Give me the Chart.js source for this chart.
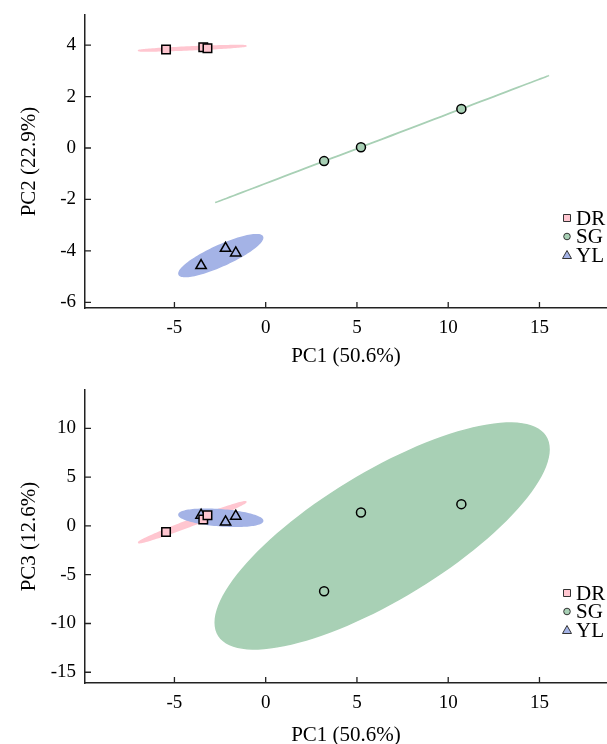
<!DOCTYPE html>
<html>
<head>
<meta charset="utf-8">
<script src="https://cdn.jsdelivr.net/npm/chart.js@4.4.1/dist/chart.umd.min.js"></script>
<style>
  html, body { margin: 0; padding: 0; background: #fff; overflow: hidden; }
  .box { width: 607px; height: 372px; }
  canvas { display: block; }
</style>
</head>
<body>
<div class="box"><canvas id="pc12" width="607" height="372"></canvas></div>
<div class="box"><canvas id="pc13" width="607" height="372"></canvas></div>
<script>
// scores per group (3 samples each)
var groups = ['DR', 'SG', 'YL'];
var DR_PC1 = [-5.46, -3.42, -3.19];
var DR_PC2 = [3.83, 3.92, 3.88];
var DR_PC3 = [-0.62, 0.66, 1.10];
var SG_PC1 = [3.20, 5.22, 10.72];
var SG_PC2 = [-0.51, 0.03, 1.52];
var SG_PC3 = [-6.70, 1.37, 2.23];
var YL_PC1 = [-3.54, -2.20, -1.64];
var YL_PC2 = [-4.57, -3.90, -4.08];
var YL_PC3 = [1.10, 0.41, 1.00];

var xTicks = [-5, 0, 5, 10, 15];
var pc2Ticks = [-6, -4, -2, 0, 2, 4];
var pc3Ticks = [-15, -10, -5, 0, 5, 10];

var FONT = '"Liberation Serif", "Times New Roman", serif';
var ELLIPSE_K = 2.35;
var colors = { DR: '#ffc6d0', SG: '#a8d0b5', YL: '#a4b3e6' };
var shapes = { DR: 'rect', SG: 'circle', YL: 'triangle' };
var radius = { DR: 6, SG: 4.5, YL: 6 };

function pts(xs, ys) {
    return xs.map(function (v, i) { return { x: v, y: ys[i] }; });
}

// confidence ellipse of each group, from its own points
var ellipsePlugin = {
    id: 'ellipses',
    beforeDatasetsDraw: function (chart) {
        var ctx = chart.ctx, sx = chart.scales.x, sy = chart.scales.y;
        ctx.save();
        chart.data.datasets.forEach(function (ds) {
            var d = ds.data, n = d.length, mx = 0, my = 0;
            d.forEach(function (p) { mx += p.x; my += p.y; });
            mx /= n; my /= n;
            var sxx = 0, syy = 0, sxy = 0;
            d.forEach(function (p) {
                sxx += (p.x - mx) * (p.x - mx);
                syy += (p.y - my) * (p.y - my);
                sxy += (p.x - mx) * (p.y - my);
            });
            sxx /= n - 1; syy /= n - 1; sxy /= n - 1;
            var l11 = Math.sqrt(sxx), l21 = sxy / l11;
            var l22 = Math.sqrt(Math.max(syy - l21 * l21, 0));
            ctx.beginPath();
            for (var i = 0; i <= 120; i++) {
                var t = i / 120 * 2 * Math.PI;
                var c = Math.cos(t) * ELLIPSE_K, s = Math.sin(t) * ELLIPSE_K;
                var px = sx.getPixelForValue(mx + l11 * c);
                var py = sy.getPixelForValue(my + l21 * c + l22 * s);
                if (i === 0) ctx.moveTo(px, py); else ctx.lineTo(px, py);
            }
            ctx.closePath();
            ctx.fillStyle = ds.backgroundColor;
            ctx.fill();
            ctx.strokeStyle = ds.backgroundColor;
            ctx.lineWidth = 1.5;
            ctx.stroke();
        });
        ctx.restore();
    }
};

// inward tick marks
var tickPlugin = {
    id: 'inTicks',
    afterDraw: function (chart) {
        var ctx = chart.ctx, a = chart.chartArea;
        ctx.save();
        ctx.strokeStyle = '#222';
        ctx.lineWidth = 1.3;
        ctx.beginPath();
        chart.scales.x.ticks.forEach(function (t) {
            var px = chart.scales.x.getPixelForValue(t.value);
            ctx.moveTo(px, a.bottom); ctx.lineTo(px, a.bottom - 6);
        });
        chart.scales.y.ticks.forEach(function (t) {
            var py = chart.scales.y.getPixelForValue(t.value);
            ctx.moveTo(a.left, py); ctx.lineTo(a.left + 6, py);
        });
        ctx.stroke();
        ctx.restore();
    }
};

// legend in the lower right corner of the plot
var legendPlugin = {
    id: 'cornerLegend',
    afterDraw: function (chart) {
        var ctx = chart.ctx, a = chart.chartArea;
        var rows = chart.options.plugins.cornerLegend.rows;
        ctx.save();
        ctx.font = '21px ' + FONT;
        ctx.textBaseline = 'middle';
        ctx.textAlign = 'left';
        chart.data.datasets.forEach(function (ds, i) {
            var y = a.bottom + rows[i], x = 567;
            ctx.fillStyle = ds.backgroundColor;
            ctx.strokeStyle = '#333';
            ctx.lineWidth = 1;
            ctx.beginPath();
            if (ds.pointStyle === 'rect') ctx.rect(x - 3.5, y - 3.5, 7, 7);
            else if (ds.pointStyle === 'circle') ctx.arc(x, y, 3.3, 0, 2 * Math.PI);
            else { ctx.moveTo(x, y - 4.5); ctx.lineTo(x + 4.5, y + 3.5); ctx.lineTo(x - 4.5, y + 3.5); ctx.closePath(); }
            ctx.fill(); ctx.stroke();
            ctx.fillStyle = '#000';
            ctx.fillText(ds.label, 576, y + 1);
        });
        ctx.restore();
    }
};

function noPadding(s) {
    s.paddingTop = 0; s.paddingBottom = 0; s.paddingLeft = 0; s.paddingRight = 0;
}

function makeChart(id, yData, yTicks, yMin, yMax, yTitle, padTop, xHeight, xTitlePad, legendRows) {
    var datasets = groups.map(function (g, i) {
        return {
            label: g,
            data: pts(window[g + '_PC1'], yData[i]),
            pointStyle: shapes[g],
            pointRadius: radius[g],
            backgroundColor: colors[g],
            borderColor: '#000',
            borderWidth: 1.5
        };
    });
    return new Chart(document.getElementById(id), {
        type: 'scatter',
        data: { datasets: datasets },
        plugins: [ellipsePlugin, tickPlugin, legendPlugin],
        options: {
            responsive: false,
            animation: false,
            layout: { autoPadding: false, padding: { top: padTop, left: 0, right: 0, bottom: 0 } },
            plugins: {
                legend: { display: false },
                tooltip: { enabled: false },
                cornerLegend: { rows: legendRows }
            },
            scales: {
                x: {
                    type: 'linear', min: -9.9, max: 18.7,
                    grid: { display: false, drawTicks: false },
                    border: { display: true, color: '#222', width: 1.5 },
                    afterBuildTicks: function (s) { s.ticks = xTicks.map(function (v) { return { value: v }; }); },
                    afterFit: function (s) { s.height = xHeight; noPadding(s); },
                    ticks: { color: '#000', padding: 9, font: { family: FONT, size: 19 } },
                    title: { display: true, text: 'PC1 (50.6%)', color: '#000', padding: { top: 0, bottom: xTitlePad }, font: { family: FONT, size: 21 } }
                },
                y: {
                    type: 'linear', min: yMin, max: yMax,
                    grid: { display: false, drawTicks: false },
                    border: { display: true, color: '#222', width: 1.5 },
                    afterBuildTicks: function (s) { s.ticks = yTicks.map(function (v) { return { value: v }; }); },
                    afterFit: function (s) { s.width = 85; noPadding(s); },
                    ticks: { color: '#000', padding: 9, font: { family: FONT, size: 19 } },
                    title: { display: true, text: yTitle, color: '#000', padding: { top: 17, bottom: 0 }, font: { family: FONT, size: 21 } }
                }
            }
        }
    });
}

document.addEventListener('DOMContentLoaded', function () {
    makeChart('pc12', [DR_PC2, SG_PC2, YL_PC2], pc2Ticks, -6.22, 5.17, 'PC2 (22.9%)', 15, 64, 3, [-90, -71.5, -53]);
    makeChart('pc13', [DR_PC3, SG_PC3, YL_PC3], pc3Ticks, -16.1, 13.93, 'PC3 (12.6%)', 18, 61, -4, [-90, -71.5, -53]);
});
</script>
</body>
</html>
